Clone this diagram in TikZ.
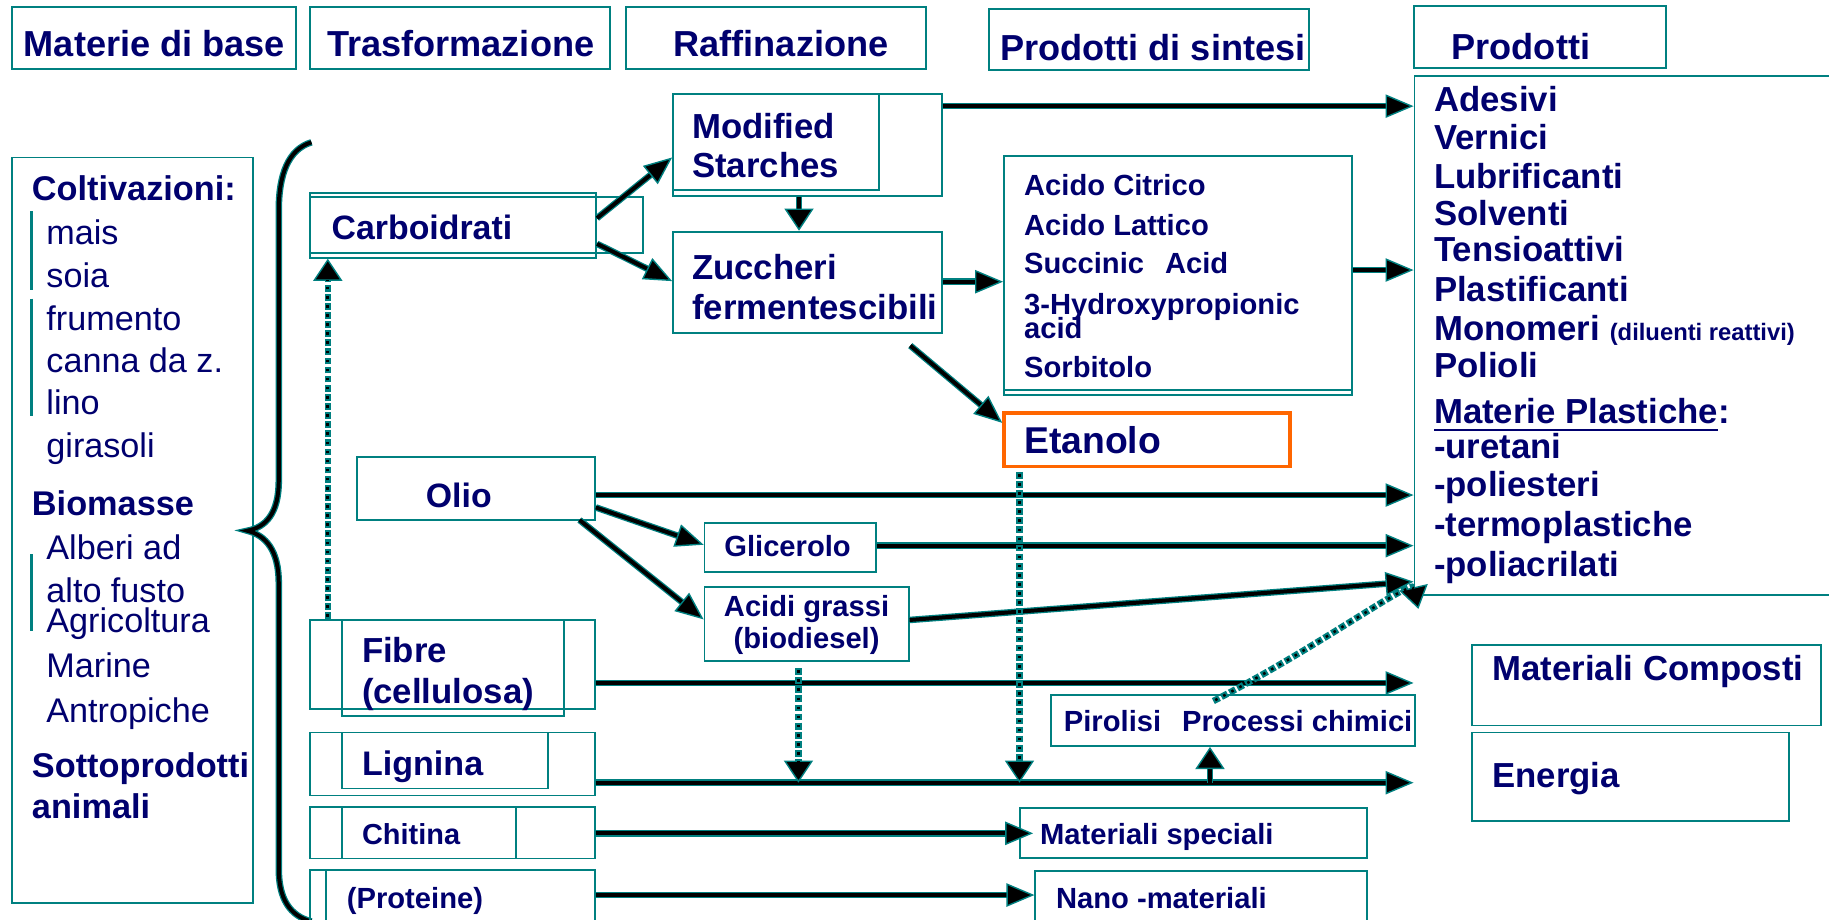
\documentclass[tikz,border=0pt]{standalone}
\usepackage{fontspec}
\setmainfont{Liberation Sans}
\usetikzlibrary{arrows.meta,fit,calc}
\definecolor{navy}{RGB}{0,0,110}
\definecolor{tealc}{RGB}{0,128,128}
\definecolor{orng}{RGB}{255,102,0}
\newcommand{\myul}[1]{\setbox0\hbox{#1}\rlap{\rule[-3.4pt]{\wd0}{1pt}}\box0}
\begin{document}
\begin{tikzpicture}[x=0.5pt,y=-0.5pt,
  box/.style={draw=tealc, line width=0.8pt, inner sep=0pt},
  tx/.style={text=navy, inner sep=0pt, anchor=base west},
  h/.style={tx, font=\fontsize{15.5}{18}\selectfont\bfseries},
  bA/.style={tx, font=\fontsize{14.9}{18}\selectfont\bfseries},
  bB/.style={tx, font=\fontsize{12.5}{15}\selectfont\bfseries},
  lr/.style={tx, font=\fontsize{14.65}{18}\selectfont},
  lb/.style={tx, font=\fontsize{14.7}{18}\selectfont\bfseries},
  arr/.style={draw=black, line width=1.7pt,
    -{Triangle[length=12pt,width=10pt,fill=black,color=tealc,line width=0.6pt]},
    preaction={draw=tealc, line width=2.8pt, arrows=-, shorten >=9pt}},
  arrv/.style={arr, -{Triangle[length=9.5pt,width=12.5pt,fill=black,color=tealc,line width=0.6pt]}},
  dotarr/.style={draw=tealc, line width=2.8pt, dash pattern=on 2.9pt off 1pt,
    -{Triangle[length=9.5pt,width=12.5pt,fill=black,color=tealc,line width=0.6pt]},
    postaction={draw=black, line width=1.1pt, arrows=-, dash pattern=on 1.1pt off 2.8pt, dash phase=3pt, shorten >=9pt}}
]
\fill[white] (0,0) rectangle (1568,788);
\useasboundingbox (0,0) rectangle (1568,788);

% ---------- headers
\node[box, fit={(10,6)(254,59)}] (hmat) {};
\node[h] (thmat) at (20,48.6) {Materie di base};
\node[box, fit={(266,6)(523,59)}] (htra) {};
\node[h] (thtra) at (280,48.6) {Trasformazione};
\node[box, fit={(537,6)(794,59)}] (hraf) {};
\node[h] (thraf) at (577,48.6) {Raffinazione};
\node[box, fit={(848,8)(1122,60)}] (hsin) {};
\node[h] (thsin) at (857,52) {Prodotti di sintesi};
\node[box, fit={(1212,5)(1428,58)}] (hpro) {};
\node[h] (thpro) at (1244,51) {Prodotti};

% ---------- left panel
\node[box, fit={(10,135)(217,774)}] (mat) {};
\node[lb] (l1) at (27,171.5) {Coltivazioni:};
\node[lr] (l2) at (39.4,210) {mais};
\node[lr] (l3) at (39.4,246.5) {soia};
\node[lr] (l4) at (39.4,283) {frumento};
\node[lr] (l5) at (39.4,319) {canna da z.};
\node[lr] (l6) at (39.4,355) {lino};
\node[lr] (l7) at (39.4,392) {girasoli};
\node[lb] (l8) at (27,441.5) {Biomasse};
\node[lr] (l9) at (39.4,480) {Alberi ad};
\node[lr] (l10) at (39.4,516.5) {alto fusto};
\node[lr] (l11) at (39.4,542) {Agricoltura};
\node[lr] (l12) at (39.4,581) {Marine};
\node[lr] (l13) at (39.4,619) {Antropiche};
\node[lb] (l14) at (27,666.5) {Sottoprodotti};
\node[lb] (l15) at (27,702) {animali};
\draw[tealc, line width=1.2pt] (27,181) -- (27,249);
\draw[tealc, line width=1.2pt] (27,256) -- (27,357);
\draw[tealc, line width=1.2pt] (27,475) -- (27,541);

% ---------- brace
\draw[line width=1.7pt, preaction={draw=tealc, line width=2.8pt}]
  (267,122) .. controls (247,128) and (239,150) .. (239,180) -- (239,412)
  .. controls (239,440) and (228,452) .. (212,455)
  .. controls (228,459) and (239,472) .. (239,500) -- (239,745)
  .. controls (239,770) and (248,785) .. (267,790);

% ---------- trasformazione
\node[box, fit={(266,165.7)(511,221)}] (carb) {};
\node[box, fit={(266,168.6)(551,217)}] (carb2) {};
\node[bA, font=\fontsize{14.5}{18}\selectfont\bfseries] (tcarb) at (284,205) {Carboidrati};
\node[box, fit={(306,392)(510,446)}] (olio) {};
\node[bA, font=\fontsize{14.5}{18}\selectfont\bfseries] (tolio) at (364.7,435) {Olio};
\node[box, fit={(266,531.5)(510,608)}] (fibre) {};
\node[box, fit={(293,531.5)(483.6,614)}] (fibre2) {};
\node[bA] (tfib1) at (310,568) {Fibre};
\node[bA] (tfib2) at (310,603) {(cellulosa)};
\node[box, fit={(266,628)(510,682)}] (lign) {};
\node[box, fit={(293,628)(470,676)}] (lign2) {};
\node[bA, font=\fontsize{14.6}{18}\selectfont\bfseries] (tlign) at (310,664.4) {Lignina};
\node[box, fit={(266,692)(510,736)}] (chit) {};
\node[box, fit={(293,692)(442,736)}] (chit2) {};
\node[bB, font=\fontsize{12.4}{15}\selectfont\bfseries] (tchit) at (310,724.4) {Chitina};
\node[box, fit={(266,746)(510,800)}] (prot) {};
\node[box, fit={(279.5,746)(510,800)}] (prot2) {};
\node[bB] (tprot) at (297,778.7) {(Proteine)};

% ---------- raffinazione
\node[box, fit={(577,80.6)(807.6,167.7)}] (mod) {};
\node[box, fit={(577,80.6)(753.5,163)}] (mod2) {};
\node[bA] (tmod1) at (593,118.6) {Modified};
\node[bA] (tmod2) at (593,152) {Starches};
\node[box, fit={(577,198.6)(807.6,285.5)}] (zuc) {};
\node[bA] (tzuc1) at (593,240) {Zuccheri};
\node[bA] (tzuc2) at (593,274.3) {fermentescibili};
\node[box, fit={(604,448)(751,490)}] (glic) {};
\node[bB] (tglic) at (620.6,477.2) {Glicerolo};
\node[box, fit={(604,503)(779,567)}] (acg) {};
\node[bB, anchor=base] (tacg1) at (691.5,528.7) {Acidi grassi};
\node[bB, anchor=base] (tacg2) at (691.5,555.8) {(biodiesel)};

% ---------- prodotti di sintesi
\node[box, fit={(860.7,134)(1159,338.6)}] (acid) {};
\node[box, fit={(860.7,134)(1159,334.3)}] (acid2) {};
\node[bB] (ta1) at (877.6,167.2) {Acido Citrico};
\node[bB] (ta2) at (877.6,201.5) {Acido Lattico};
\node[bB] (ta3) at (877.6,234.3) {Succinic\hspace{9pt}Acid};
\node[bB] (ta4) at (877.6,270) {3-Hydroxypropionic};
\node[bB] (ta5) at (877.6,290) {acid};
\node[bB] (ta6) at (877.6,323.8) {Sorbitolo};
\node[draw=orng, line width=1.5pt, inner sep=0pt, fit={(860.7,354)(1106,400)}] (etan) {};
\node[tx, font=\fontsize{16}{19}\selectfont\bfseries] (tetan) at (877.6,388.6) {Etanolo};
\node[box, fit={(901,595.8)(1213,639.5)}] (piro) {};
\node[bB] (tpiro) at (911.7,627.2) {Pirolisi\hspace{9pt}Processi chimici};
\node[box, fit={(874.5,692.4)(1172,735.6)}] (matsp) {};
\node[bB] (tmatsp) at (891.3,724.4) {Materiali speciali};
\node[box, fit={(887.6,746.4)(1172,800)}] (nano) {};
\node[bB] (tnano) at (905,778.7) {Nano -materiali};

% ---------- prodotti
\node[box, fit={(1212.6,65)(1600,510)}] (prod) {};
\node[bA] (p1) at (1229,95.7) {Adesivi};
\node[bA] (p2) at (1229,128) {Vernici};
\node[bA] (p3) at (1229,161.4) {Lubrificanti};
\node[bA] (p4) at (1229,193.5) {Solventi};
\node[bA] (p5) at (1229,224.3) {Tensioattivi};
\node[bA] (p6) at (1229,258.6) {Plastificanti};
\node[bA] (p7) at (1229,291.5) {Monomeri {\fontsize{10.2}{12}\selectfont (diluenti reattivi)}};
\node[bA] (p8) at (1229,323.8) {Polioli};
\node[bA] (p9) at (1229,362.9) {\myul{Materie Plastiche}:};
\node[bA] (p10) at (1229,393) {-uretani};
\node[bA] (p11) at (1229,425.8) {-poliesteri};
\node[bA] (p12) at (1229,460) {-termoplastiche};
\node[bA] (p13) at (1229,494.4) {-poliacrilati};
\node[box, fit={(1262,553)(1561,622)}] (comp) {};
\node[bA] (tcomp) at (1279,583) {Materiali Composti};
\node[box, fit={(1262,628)(1533.7,703.5)}] (ener) {};
\node[bA] (tener) at (1279,675) {Energia};

% ---------- connectors
\coordinate (ligA) at (684.5,671);
\coordinate (ligB) at (874,671);
\coordinate (ligC) at (1037.3,671);
\draw[arr] (mod.east |- 0,91) -- (prod.west |- 0,91);
\draw[arr] (carb.east |- 0,187) -- (mod.west |- 0,135);
\draw[arr] (carb.east |- 0,209) -- (zuc.west |- 0,241);
\draw[arrv] (685,0 |- mod.south) -- (685,0 |- zuc.north);
\draw[arr] (zuc.east |- 0,241.5) -- (acid.west |- 0,241.5);
\draw[arr] ($(zuc.south east)+(-28,10)$) -- ($(etan.north west)+(0,10)$);
\draw[arr] (acid.east |- 0,231.5) -- (prod.west |- 0,231.5);
\draw[arr] (olio.east |- 0,424.4) -- (prod.west |- 0,424.4);
\draw[arr] (olio.east |- 0,435) -- (glic.west |- 0,467);
\draw[arr] ($(olio.south east)+(-14,-1)$) -- (acg.west |- 0,531);
\draw[arr] (glic.east |- 0,467.8) -- (prod.west |- 0,467.8);
\draw[arr] (acg.east |- 0,531.5) -- (prod.west |- 0,498.6);
\draw[arr] (fibre.east |- 0,585.5) -- (prod.west |- 0,585.5);
\draw[arr] (lign.east |- 0,671) -- (prod.west |- 0,671);
\draw[arr] (chit.east |- 0,714.4) -- ($(matsp.west |- 0,714.4)+(12,0)$);
\draw[arr] (prot.east |- 0,767.3) -- (nano.west |- 0,767.3);
\draw[arrv] (ligC) -- (1037.3,0 |- piro.south);

\draw[dotarr] (281,0 |- fibre.north) -- (281,0 |- carb.south);
\draw[dotarr] ($(684.5,0 |- acg.south)+(0,5)$) -- (ligA);
\draw[dotarr] ($(874,0 |- etan.south)+(0,3)$) -- (ligB);
\draw[dotarr] ($(piro.north west)+(140,6)$) .. controls (1130,555) and (1210,496) .. (1216,522);
\end{tikzpicture}
\end{document}
